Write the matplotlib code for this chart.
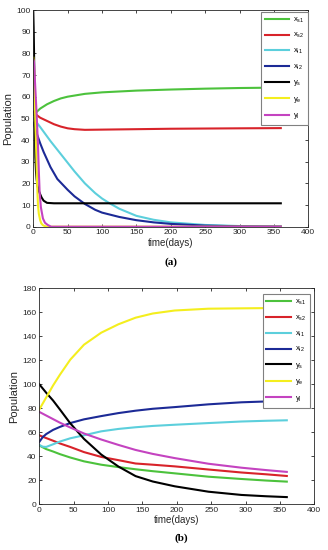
import matplotlib
matplotlib.use("Agg")
import matplotlib.pyplot as plt
import numpy as np

plt.rcParams['font.family'] = ['Liberation Sans', 'DejaVu Sans']
plt.rcParams['mathtext.default'] = 'regular'

labels = [r'$x_{s1}$', r'$x_{s2}$', r'$x_{i1}$', r'$x_{i2}$', r'$y_s$', r'$y_e$', r'$y_i$']
colors = ['#4cc23c', '#d8232a', '#5ccfdc', '#1c2a96', '#000000', '#f4ee1e', '#c443c0']

# ---- panel (a) ----
ta_xs1 = [0, 5, 10, 20, 30, 40, 50, 75, 100, 150, 200, 250, 300, 360]
a_xs1 = [51.5, 53, 54.5, 56.5, 58, 59.2, 60, 61.3, 62, 62.8, 63.3, 63.7, 64, 64.2]
ta_xs2 = [0, 5, 10, 20, 30, 40, 50, 60, 75, 100, 150, 200, 250, 300, 360]
a_xs2 = [53, 51.5, 50.3, 48.8, 47.3, 46.2, 45.4, 45, 44.7, 44.8, 45, 45.2, 45.3, 45.4, 45.5]
ta_xi1 = [0, 10, 25, 40, 50, 60, 75, 90, 100, 110, 125, 150, 175, 200, 250, 300, 360]
a_xi1 = [50, 46, 39.5, 33.5, 29.5, 25.5, 20, 15.5, 13, 11, 8.3, 5, 3.2, 2, 0.8, 0.3, 0.1]
ta_xi2 = [0, 5, 10, 15, 25, 35, 50, 60, 75, 90, 100, 125, 150, 175, 200, 250, 300, 360]
a_xi2 = [48, 43, 38.5, 34.5, 27.5, 22, 17, 14, 10.5, 7.8, 6.5, 4.5, 3, 2, 1.3, 0.5, 0.2, 0.1]
ta_ys = [0, 0.5, 1, 1.5, 2, 2.5, 3, 4, 5, 6, 8, 10, 12, 15, 20, 30, 360]
a_ys = [99, 92, 82, 70, 55, 42, 32, 25, 21.5, 19, 16.5, 15, 13.5, 12, 11, 10.8, 10.8]
ta_ye = [0, 1, 2, 3, 4.4, 5.5, 6.8, 8, 10, 11.7, 14, 16.5, 20, 360]
a_ye = [78, 74, 62, 48, 33, 20, 10, 6, 3, 1.5, 0.7, 0.3, 0, 0]
ta_yi = [0, 1, 2.9, 4.9, 6.8, 8, 9.2, 11, 14, 17, 21, 26, 360]
a_yi = [77, 76, 64, 51.5, 37.7, 26, 16, 9, 3.8, 1.8, 0.8, 0, 0]

# ---- panel (b) ----
tb = [0, 5, 10, 20, 30, 45, 65, 90, 115, 140, 165, 197, 246, 294, 330, 360]
b_xs1 = [49, 47.5, 46, 44, 41.8, 39, 35.8, 33, 31, 29.2, 27.6, 25.8, 23, 21.1, 19.8, 18.9]
b_xs2 = [57.5, 56.3, 55.2, 53, 50.7, 47.8, 43.5, 39.5, 36.8, 34, 33, 31.6, 29, 26.5, 25, 23.6]
b_xi1 = [49.5, 48, 47.8, 50, 52.3, 55, 57.5, 60.8, 62.8, 64.2, 65.3, 66.3, 67.7, 69, 69.6, 70]
b_xi2 = [52, 56, 58.5, 62, 64.5, 67.7, 70.8, 73.5, 76, 78, 79.6, 81, 83.3, 85, 85.7, 86.3]
b_ys = [100, 96.5, 93, 86.5, 79, 67.5, 54.5, 41.5, 31.5, 23.5, 19, 15, 10.5, 7.8, 6.7, 6]
b_ye = [79, 84, 89, 99, 108, 120.5, 133, 143, 150, 155.5, 159, 161.5, 163, 163.3, 163.5, 163.5]
b_yi = [77, 75.5, 74, 71, 68, 64, 59, 54, 49.5, 45.3, 42, 38.5, 33.8, 30.5, 28.5, 27]

fig = plt.figure(figsize=(3.28, 5.5), dpi=100)

def style(ax, ymax, ystep):
    ax.set_xlim(0, 400)
    ax.set_ylim(0, ymax)
    ax.set_xticks(np.arange(0, 401, 50))
    ax.set_yticks(np.arange(0, ymax + 1, ystep))
    ax.tick_params(direction='in', top=True, right=True, length=2.5, width=0.6,
                   labelsize=6, pad=2, colors='#262626')
    for s in ax.spines.values():
        s.set_linewidth(0.6)
        s.set_color('#262626')
    ax.set_xlabel('time(days)', fontsize=7, labelpad=1, color='#262626')
    ax.set_ylabel('Population', fontsize=8, labelpad=2, color='#262626')

def legend(ax, anchor):
    leg = ax.legend(loc='upper right', bbox_to_anchor=anchor, borderaxespad=0,
                    fontsize=5.5, frameon=True, fancybox=False,
                    edgecolor='#808080', framealpha=1, handlelength=3.2,
                    labelspacing=0.85, borderpad=0.5, handletextpad=0.5)
    leg.get_frame().set_linewidth(0.8)

axa = fig.add_axes([33.3 / 328, 1 - 226.7 / 550, 275 / 328, 216.7 / 550])
series_a = [(ta_xs1, a_xs1), (ta_xs2, a_xs2), (ta_xi1, a_xi1), (ta_xi2, a_xi2),
            (ta_ys, a_ys), (ta_ye, a_ye), (ta_yi, a_yi)]
for (t, y), c, l in zip(series_a, colors, labels):
    axa.plot(t, y, color=c, lw=1.5, label=l)
style(axa, 100, 10)
legend(axa, (1.0, 0.992))
fig.text(171 / 328, 1 - 262 / 550, '(a)', ha='center', va='center',
         fontsize=8, family='Liberation Serif', fontweight='bold')

axb = fig.add_axes([39.3 / 328, 1 - 504.3 / 550, 275 / 328, 216 / 550])
series_b = [b_xs1, b_xs2, b_xi1, b_xi2, b_ys, b_ye, b_yi]
for y, c, l in zip(series_b, colors, labels):
    axb.plot(tb, y, color=c, lw=1.5, label=l)
style(axb, 180, 20)
legend(axb, (0.984, 0.972))
fig.text(181 / 328, 1 - 538 / 550, '(b)', ha='center', va='center',
         fontsize=8, family='Liberation Serif', fontweight='bold')

fig.savefig('out.png', dpi=100)
